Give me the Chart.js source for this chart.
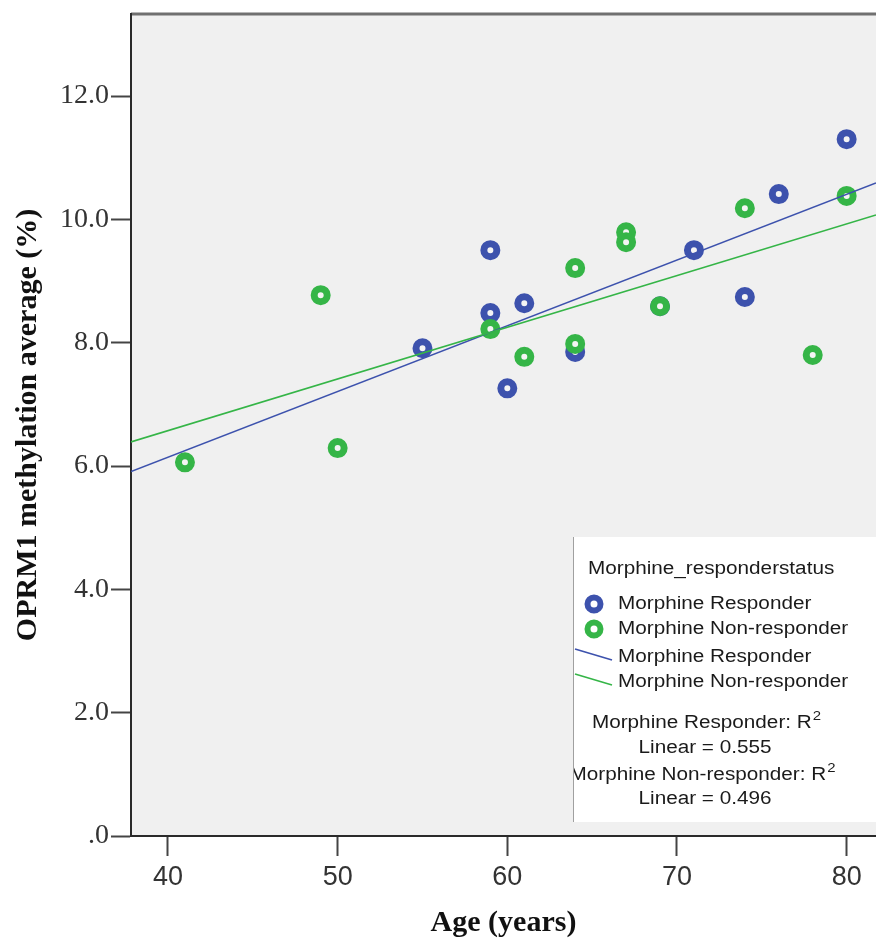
<!DOCTYPE html>
<html>
<head>
<meta charset="utf-8">
<script src="https://cdn.jsdelivr.net/npm/chart.js@4/dist/chart.umd.min.js"></script>
<style>
  body { margin: 0; background: #fff; }
</style>
</head>
<body>
<canvas id="chart-oprm1" width="876" height="938"></canvas>
<script>
// values
var responderAge = [55, 59, 59, 60, 61, 64, 69, 71, 74, 76, 80];
var responderMeth = [7.91, 9.50, 8.48, 7.26, 8.64, 7.85, 8.59, 9.50, 8.74, 10.41, 11.30];

var nonResponderAge = [41, 49, 50, 59, 61, 64, 64, 67, 67, 69, 74, 78, 80];
var nonResponderMeth = [6.06, 8.77, 6.29, 8.22, 7.77, 9.21, 7.98, 9.79, 9.63, 8.59, 10.18, 7.80, 10.38];

// fit line end points (at the left and right edge of the plot)
var fitAge = [37.82, 81.73];
var responderFit = [5.91, 10.59];
var nonResponderFit = [6.39, 10.07];

var xTicks = [40, 50, 60, 70, 80];
var yTicks = [0, 2, 4, 6, 8, 10, 12];

var BLUE = "#3d52ad";
var GREEN = "#35b547";

function toPoints(xs, ys) {
  return xs.map(function (x, i) { return { x: x, y: ys[i] }; });
}

var bgPlugin = {
  id: "plotBackground",
  beforeDraw: function (chart) {
    var a = chart.chartArea, ctx = chart.ctx;
    ctx.save();
    ctx.fillStyle = "#f0f0f0";
    ctx.fillRect(a.left, a.top, a.right - a.left, a.bottom - a.top);
    ctx.strokeStyle = "#707070";
    ctx.lineWidth = 3;
    ctx.beginPath();
    ctx.moveTo(a.left, a.top);
    ctx.lineTo(a.right, a.top);
    ctx.stroke();
    ctx.restore();
  },
};

function stretchText(ctx, text, x, y, align) {
  var sx = 1.15;
  var w = ctx.measureText(text).width * sx;
  var left = align === "center" ? x - w / 2 : x;
  ctx.save();
  ctx.translate(left, y);
  ctx.scale(sx, 1);
  ctx.textAlign = "left";
  ctx.fillText(text, 0, 0);
  ctx.restore();
  return w;
}

function rSquared(ctx, label, cx, y) {
  ctx.font = "18px 'Liberation Sans'";
  var w = ctx.measureText(label).width * 1.15;
  ctx.font = "13px 'Liberation Sans'";
  var w2 = ctx.measureText("2").width * 1.15;
  var left = cx - (w + w2) / 2;
  ctx.font = "18px 'Liberation Sans'";
  stretchText(ctx, label, left, y, "left");
  ctx.font = "13px 'Liberation Sans'";
  stretchText(ctx, "2", left + w + 1, y - 7, "left");
}

var legendPlugin = {
  id: "spssLegend",
  afterDraw: function (chart) {
    var ctx = chart.ctx;
    var L = 573, T = 537, R = 876, B = 822;
    ctx.save();
    ctx.fillStyle = "#ffffff";
    ctx.fillRect(L, T, R - L, B - T);
    ctx.strokeStyle = "#a0a0a0";
    ctx.lineWidth = 1;
    ctx.beginPath();
    ctx.moveTo(L + 0.5, T);
    ctx.lineTo(L + 0.5, B);
    ctx.stroke();

    ctx.beginPath();
    ctx.rect(L + 1, T, R - L, B - T);
    ctx.clip();

    ctx.fillStyle = "#1a1a1a";
    ctx.textBaseline = "middle";
    ctx.font = "18px 'Liberation Sans'";
    stretchText(ctx, "Morphine_responderstatus", 588, 569, "left");

    var rows = [
      { kind: "point", color: BLUE, text: "Morphine Responder", y: 604 },
      { kind: "point", color: GREEN, text: "Morphine Non-responder", y: 629 },
      { kind: "line", color: BLUE, text: "Morphine Responder", y: 657 },
      { kind: "line", color: GREEN, text: "Morphine Non-responder", y: 682 },
    ];
    rows.forEach(function (r) {
      ctx.strokeStyle = r.color;
      if (r.kind === "point") {
        ctx.lineWidth = 6;
        ctx.beginPath();
        ctx.arc(594, r.y, 6.5, 0, Math.PI * 2);
        ctx.stroke();
      } else {
        ctx.lineWidth = 1.6;
        ctx.beginPath();
        ctx.moveTo(575, r.y - 8);
        ctx.lineTo(612, r.y + 3);
        ctx.stroke();
      }
      ctx.fillStyle = "#1a1a1a";
      ctx.font = "18px 'Liberation Sans'";
      stretchText(ctx, r.text, 618, r.y, "left");
    });

    rSquared(ctx, "Morphine Responder: R", 706, 723);
    ctx.font = "18px 'Liberation Sans'";
    stretchText(ctx, "Linear = 0.555", 705, 748, "center");
    rSquared(ctx, "Morphine Non-responder: R", 702, 775);
    ctx.font = "18px 'Liberation Sans'";
    stretchText(ctx, "Linear = 0.496", 705, 799, "center");
    ctx.restore();
  },
};

var chartOptions = {
  responsive: false,
  animation: false,
  layout: {
    autoPadding: false,
    padding: { top: 14, right: 0, left: 0, bottom: 0 },
  },
  plugins: {
    legend: { display: false },
    tooltip: { enabled: false },
  },
  scales: {
    x: {
      type: "linear",
      min: fitAge[0],
      max: fitAge[1],
      afterBuildTicks: function (scale) {
        scale.ticks = xTicks.map(function (v) { return { value: v }; });
      },
      afterFit: function (scale) {
        scale.height = 102;
        scale.paddingLeft = 0;
        scale.paddingRight = 0;
      },
      border: { display: true, color: "#2a2a2a", width: 2 },
      grid: {
        drawOnChartArea: false,
        tickLength: 20,
        tickColor: "#444",
        tickWidth: 2,
      },
      ticks: {
        autoSkip: false,
        maxRotation: 0,
        padding: 5,
        color: "#333",
        font: { family: "'Liberation Sans'", size: 27 },
      },
      title: {
        display: true,
        text: "Age (years)",
        color: "#111",
        padding: { top: 0, bottom: 0 },
        font: { family: "'Liberation Serif'", size: 30, weight: "bold", lineHeight: 1 },
      },
    },
    y: {
      type: "linear",
      min: 0,
      max: 13.33,
      afterBuildTicks: function (scale) {
        scale.ticks = yTicks.map(function (v) { return { value: v }; });
      },
      afterFit: function (scale) {
        scale.width = 131;
        scale.paddingTop = 0;
        scale.paddingBottom = 0;
      },
      border: { display: true, color: "#2a2a2a", width: 2 },
      grid: {
        drawOnChartArea: false,
        tickLength: 20,
        tickColor: "#444",
        tickWidth: 2,
      },
      ticks: {
        padding: 2,
        color: "#333",
        font: { family: "'Liberation Serif'", size: 28 },
        callback: function (v) { return v === 0 ? ".0" : v.toFixed(1); },
      },
      title: {
        display: true,
        text: "OPRM1 methylation average (%)",
        color: "#111",
        padding: { top: 13, bottom: 0 },
        font: { family: "'Liberation Serif'", size: 30, weight: "bold", lineHeight: 1 },
      },
    },
  },
};

new Chart("chart-oprm1", {
  type: "scatter",
  data: {
    datasets: [
      {
        type: "line",
        data: toPoints(fitAge, nonResponderFit),
        borderColor: GREEN,
        borderWidth: 1.6,
        pointRadius: 0,
        fill: false,
      },
      {
        type: "line",
        data: toPoints(fitAge, responderFit),
        borderColor: BLUE,
        borderWidth: 1.6,
        pointRadius: 0,
        fill: false,
      },
      {
        data: toPoints(nonResponderAge, nonResponderMeth),
        borderColor: GREEN,
        backgroundColor: "#f4f4f4",
        borderWidth: 7,
        pointRadius: 6.5,
      },
      {
        data: toPoints(responderAge, responderMeth),
        borderColor: BLUE,
        backgroundColor: "#f4f4f4",
        borderWidth: 7,
        pointRadius: 6.5,
      },
    ],
  },
  options: chartOptions,
  plugins: [bgPlugin, legendPlugin],
});
</script>
</body>
</html>
